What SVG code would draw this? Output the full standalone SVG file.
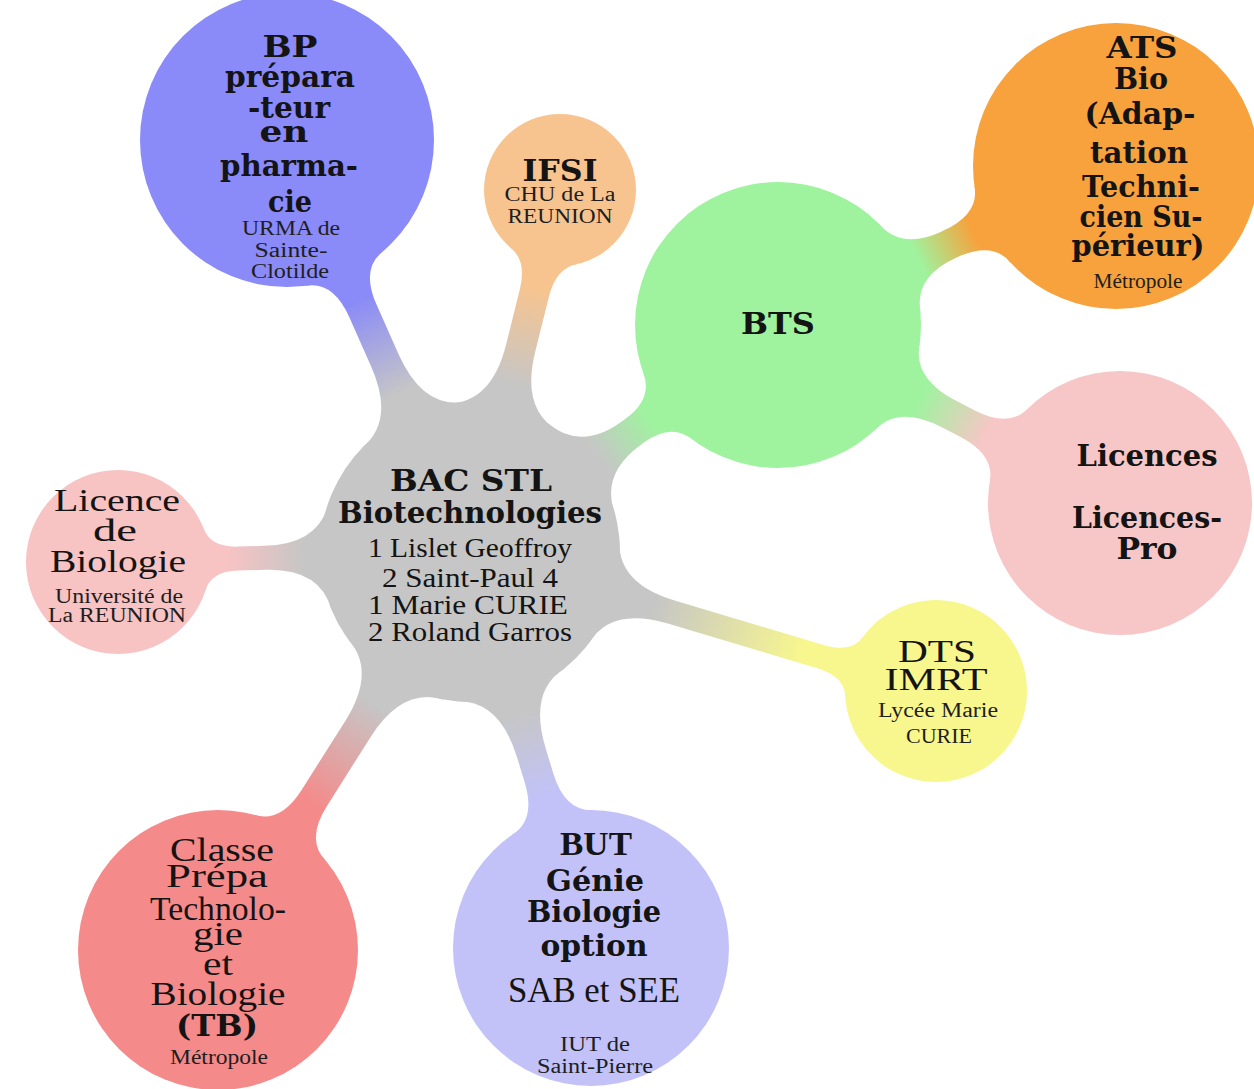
<svg xmlns="http://www.w3.org/2000/svg" width="1254" height="1089" viewBox="0 0 1254 1089">
<style>
.b{font-family:"DejaVu Serif",serif;font-weight:bold;font-size:29px;fill:#141414;text-anchor:middle}
.r{font-family:"Liberation Serif",serif;font-size:28px;fill:#141414;text-anchor:middle}
.rl{font-family:"Liberation Serif",serif;font-size:34px;fill:#141414;text-anchor:middle}
.rd{font-family:"Liberation Serif",serif;font-size:32px;fill:#141414;text-anchor:middle}
.s{font-family:"Liberation Serif",serif;font-size:20px;fill:#1e1e1e;text-anchor:middle}
.bt{font-family:"Liberation Serif",serif;font-weight:bold;font-size:33px;fill:#141414;text-anchor:middle}
.sab{font-family:"Liberation Serif",serif;font-size:35px;fill:#141414;text-anchor:middle}
</style>
<defs>
<linearGradient id="gBP" x1="0" y1="0" x2="1" y2="0"><stop offset="0.2" stop-color="#c6c6c6"/><stop offset="0.8" stop-color="#8a8af8"/></linearGradient>
<linearGradient id="gIF" x1="0" y1="0" x2="1" y2="0"><stop offset="0.2" stop-color="#c6c6c6"/><stop offset="0.8" stop-color="#f7c490"/></linearGradient>
<linearGradient id="gBT" x1="0" y1="0" x2="1" y2="0"><stop offset="0.2" stop-color="#c6c6c6"/><stop offset="0.8" stop-color="#9ff39f"/></linearGradient>
<linearGradient id="gLB" x1="0" y1="0" x2="1" y2="0"><stop offset="0.2" stop-color="#c6c6c6"/><stop offset="0.8" stop-color="#f7c3c3"/></linearGradient>
<linearGradient id="gDT" x1="0" y1="0" x2="1" y2="0"><stop offset="0.2" stop-color="#c6c6c6"/><stop offset="0.8" stop-color="#f8f78e"/></linearGradient>
<linearGradient id="gBU" x1="0" y1="0" x2="1" y2="0"><stop offset="0.2" stop-color="#c6c6c6"/><stop offset="0.8" stop-color="#c2c2f8"/></linearGradient>
<linearGradient id="gCL" x1="0" y1="0" x2="1" y2="0"><stop offset="0.2" stop-color="#c6c6c6"/><stop offset="0.8" stop-color="#f58a8a"/></linearGradient>
<linearGradient id="gAT" x1="0" y1="0" x2="1" y2="0"><stop offset="0.2" stop-color="#9ff39f"/><stop offset="0.8" stop-color="#f7a23c"/></linearGradient>
<linearGradient id="gLI" x1="0" y1="0" x2="1" y2="0"><stop offset="0.2" stop-color="#9ff39f"/><stop offset="0.8" stop-color="#f7c6c6"/></linearGradient>
</defs>
<rect width="1254" height="1089" fill="#ffffff"/>
<g id="connectors">
<path fill="url(#gBP)" transform="translate(470,552) rotate(-113.95)" d="M138.8,57 Q150,15 210,15 L263.8,15 Q303.8,15 310.2,43 L310.2,-43 Q303.8,-15 263.8,-15 L210,-15 Q150,-15 138.8,-57 Z"/>
<path fill="url(#gIF)" transform="translate(470,552) rotate(-76.04)" d="M138.8,57 Q150,15 210,15 L267,15 Q297,15 305.5,35 L305.5,-35 Q297,-15 267,-15 L210,-15 Q150,-15 138.8,-57 Z"/>
<path fill="url(#gBT)" transform="translate(470,552) rotate(-36.39)" d="M138.8,57 Q150,15 200,15 L204.6,15 Q239.6,15 246.2,43 L246.2,-43 Q239.6,-15 204.6,-15 L200,-15 Q150,-15 138.8,-57 Z"/>
<path fill="url(#gLB)" transform="translate(470,552) rotate(178.37)" d="M139.9,54 Q150,12 205,12 L232.1,12 Q260.1,12 265.8,32 L265.8,-32 Q260.1,-12 232.1,-12 L205,-12 Q150,-12 139.9,-54 Z"/>
<path fill="url(#gDT)" transform="translate(470,552) rotate(16.61)" d="M139.9,54 Q150,12 210,12 L365.3,12 Q395.3,12 401.1,32 L401.1,-32 Q395.3,-12 365.3,-12 L210,-12 Q150,-12 139.9,-54 Z"/>
<path fill="url(#gBU)" transform="translate(470,552) rotate(73.01)" d="M138.8,57 Q150,15 210,15 L236.1,15 Q276.1,15 283,43 L283,-43 Q276.1,-15 236.1,-15 L210,-15 Q150,-15 138.8,-57 Z"/>
<path fill="url(#gCL)" transform="translate(470,552) rotate(122.34)" d="M138.8,57 Q150,15 210,15 L291.1,15 Q331.1,15 337.9,43 L337.9,-43 Q331.1,-15 291.1,-15 L210,-15 Q150,-15 138.8,-57 Z"/>
<path fill="url(#gAT)" transform="translate(778,325) rotate(-25.19)" d="M134,50 Q143,15 188,15 L190.5,15 Q230.5,15 237.1,43 L237.1,-43 Q230.5,-15 190.5,-15 L188,-15 Q143,-15 134,-50 Z"/>
<path fill="url(#gLI)" transform="translate(778,325) rotate(27.5)" d="M134,50 Q143,15 193,15 L213.6,15 Q253.6,15 260.8,43 L260.8,-43 Q253.6,-15 213.6,-15 L193,-15 Q143,-15 134,-50 Z"/>
</g>
<g id="node-bac">
<circle cx="470" cy="552" r="150" fill="#c6c6c6"/>
<text class="b" x="471" y="491" textLength="162" lengthAdjust="spacingAndGlyphs">BAC STL</text>
<text class="b" x="470" y="523" textLength="264" lengthAdjust="spacingAndGlyphs">Biotechnologies</text>
<text class="r" x="470" y="557" textLength="204" lengthAdjust="spacingAndGlyphs">1 Lislet Geoffroy</text>
<text class="r" x="470" y="587" textLength="176" lengthAdjust="spacingAndGlyphs">2 Saint-Paul 4</text>
<text class="r" x="468" y="614" textLength="200" lengthAdjust="spacingAndGlyphs">1 Marie CURIE</text>
<text class="r" x="470" y="641" textLength="204" lengthAdjust="spacingAndGlyphs">2 Roland Garros</text>
</g>
<g id="node-bp">
<circle cx="287" cy="140" r="147" fill="#8a8af8"/>
<text class="b" x="290" y="57" textLength="55" lengthAdjust="spacingAndGlyphs">BP</text>
<text class="b" x="290" y="87" textLength="130" lengthAdjust="spacingAndGlyphs">prépara</text>
<text class="b" x="289" y="118" textLength="82" lengthAdjust="spacingAndGlyphs">-teur</text>
<text class="b" x="284" y="142" textLength="49" lengthAdjust="spacingAndGlyphs">en</text>
<text class="b" x="289" y="176" textLength="138" lengthAdjust="spacingAndGlyphs">pharma-</text>
<text class="b" x="290" y="212" textLength="44" lengthAdjust="spacingAndGlyphs">cie</text>
<text class="s" x="291" y="235" textLength="98" lengthAdjust="spacingAndGlyphs">URMA de</text>
<text class="s" x="291" y="257" textLength="73" lengthAdjust="spacingAndGlyphs">Sainte-</text>
<text class="s" x="290" y="278" textLength="78" lengthAdjust="spacingAndGlyphs">Clotilde</text>
</g>
<g id="node-ifsi">
<circle cx="560" cy="190" r="76" fill="#f7c490"/>
<text class="b" x="560" y="181" textLength="75" lengthAdjust="spacingAndGlyphs">IFSI</text>
<text class="s" x="560" y="201" textLength="111" lengthAdjust="spacingAndGlyphs">CHU de La</text>
<text class="s" x="560" y="223" textLength="105" lengthAdjust="spacingAndGlyphs">REUNION</text>
</g>
<g id="node-bts">
<circle cx="778" cy="325" r="143" fill="#9ff39f"/>
<text class="b" x="778" y="334" textLength="74" lengthAdjust="spacingAndGlyphs">BTS</text>
</g>
<g id="node-ats">
<circle cx="1116" cy="166" r="143" fill="#f7a23c"/>
<text class="b" x="1142" y="58" textLength="71" lengthAdjust="spacingAndGlyphs">ATS</text>
<text class="b" x="1141" y="89" textLength="54" lengthAdjust="spacingAndGlyphs">Bio</text>
<text class="b" x="1140" y="124" textLength="111" lengthAdjust="spacingAndGlyphs">(Adap-</text>
<text class="b" x="1139" y="163" textLength="98" lengthAdjust="spacingAndGlyphs">tation</text>
<text class="b" x="1141" y="197" textLength="118" lengthAdjust="spacingAndGlyphs">Techni-</text>
<text class="b" x="1141" y="227" textLength="123" lengthAdjust="spacingAndGlyphs">cien Su-</text>
<text class="b" x="1138" y="256" textLength="133" lengthAdjust="spacingAndGlyphs">périeur)</text>
<text class="s" x="1138" y="288" textLength="89" lengthAdjust="spacingAndGlyphs">Métropole</text>
</g>
<g id="node-licences">
<circle cx="1120" cy="503" r="132" fill="#f7c6c6"/>
<text class="b" x="1147" y="466" textLength="141" lengthAdjust="spacingAndGlyphs">Licences</text>
<text class="b" x="1147" y="528" textLength="150" lengthAdjust="spacingAndGlyphs">Licences-</text>
<text class="b" x="1147" y="559" textLength="61" lengthAdjust="spacingAndGlyphs">Pro</text>
</g>
<g id="node-dts">
<circle cx="936" cy="691" r="91" fill="#f8f78e"/>
<text class="rd" x="937" y="662" textLength="78" lengthAdjust="spacingAndGlyphs">DTS</text>
<text class="rd" x="936" y="690" textLength="103" lengthAdjust="spacingAndGlyphs">IMRT</text>
<text class="s" x="938" y="717" textLength="120" lengthAdjust="spacingAndGlyphs">Lycée Marie</text>
<text class="s" x="939" y="743" textLength="66" lengthAdjust="spacingAndGlyphs">CURIE</text>
</g>
<g id="node-but">
<circle cx="591" cy="948" r="138" fill="#c2c2f8"/>
<text class="bt" x="596" y="855" textLength="72" lengthAdjust="spacingAndGlyphs">BUT</text>
<text class="b" x="595" y="891" textLength="98" lengthAdjust="spacingAndGlyphs">Génie</text>
<text class="b" x="594" y="922" textLength="134" lengthAdjust="spacingAndGlyphs">Biologie</text>
<text class="b" x="594" y="956" textLength="107" lengthAdjust="spacingAndGlyphs">option</text>
<text class="sab" x="594" y="1002" textLength="172" lengthAdjust="spacingAndGlyphs">SAB et SEE</text>
<text class="s" x="595" y="1051" textLength="70" lengthAdjust="spacingAndGlyphs">IUT de</text>
<text class="s" x="595" y="1073" textLength="116" lengthAdjust="spacingAndGlyphs">Saint-Pierre</text>
</g>
<g id="node-classe">
<circle cx="218" cy="950" r="140" fill="#f58a8a"/>
<text class="rl" x="222" y="861" textLength="104" lengthAdjust="spacingAndGlyphs">Classe</text>
<text class="rl" x="217" y="887" textLength="102" lengthAdjust="spacingAndGlyphs">Prépa</text>
<text class="rl" x="218" y="920" textLength="136" lengthAdjust="spacingAndGlyphs">Technolo-</text>
<text class="rl" x="218" y="945" textLength="50" lengthAdjust="spacingAndGlyphs">gie</text>
<text class="rl" x="218" y="975" textLength="30" lengthAdjust="spacingAndGlyphs">et</text>
<text class="rl" x="218" y="1005" textLength="135" lengthAdjust="spacingAndGlyphs">Biologie</text>
<text class="b" x="217" y="1036" textLength="82" lengthAdjust="spacingAndGlyphs">(TB)</text>
<text class="s" x="219" y="1064" textLength="98" lengthAdjust="spacingAndGlyphs">Métropole</text>
</g>
<g id="node-licbio">
<circle cx="118" cy="562" r="92" fill="#f7c3c3"/>
<text class="rd" x="117" y="511" textLength="126" lengthAdjust="spacingAndGlyphs">Licence</text>
<text class="rd" x="115" y="541" textLength="44" lengthAdjust="spacingAndGlyphs">de</text>
<text class="rd" x="118" y="572" textLength="136" lengthAdjust="spacingAndGlyphs">Biologie</text>
<text class="s" x="119" y="603" textLength="128" lengthAdjust="spacingAndGlyphs">Université de</text>
<text class="s" x="117" y="622" textLength="138" lengthAdjust="spacingAndGlyphs">La REUNION</text>
</g>
</svg>
